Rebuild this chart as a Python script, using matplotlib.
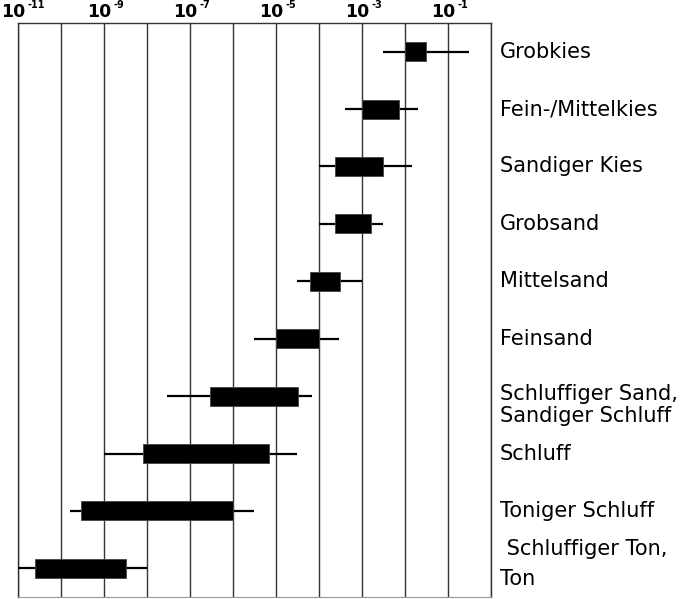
import numpy as np
import matplotlib
matplotlib.use('Agg')
import matplotlib.pyplot as plt

soils = ['Grobkies', 'Fein-/Mittelkies', 'Sandiger Kies', 'Grobsand', 'Mittelsand',
         'Feinsand', 'Schluffiger Sand,\nSandiger Schluff', 'Schluff',
         'Toniger Schluff', ' Schluffiger Ton,\nTon']
range_lo = [-2.5, -3.4, -4.0, -4.0, -4.52, -5.52, -7.53, -9.0, -9.8, -11.0]
range_hi = [-0.5, -1.7, -1.83, -2.52, -3.0, -3.53, -4.16, -4.52, -5.52, -8.0]
core_lo = [-2.0, -3.0, -3.63, -3.63, -4.2, -5.0, -6.53, -8.1, -9.53, -10.6]
core_hi = [-1.5, -2.15, -2.5, -2.8, -3.5, -4.0, -4.5, -5.16, -6.0, -8.5]
decades = list(range(-11, 1))
labelled = [-11, -9, -7, -5, -3, -1]

plt.rcParams['font.family'] = ['DejaVu Sans']

fig = plt.figure(figsize=(6.99, 5.99), dpi=100)
ax = fig.add_axes([18 / 699, 1 - 597 / 599, 473 / 699, 574 / 599])
ax.set_xscale('log')

rows = np.arange(len(soils))
w_lo, w_hi = np.power(10.0, range_lo), np.power(10.0, range_hi)
b_lo, b_hi = np.power(10.0, core_lo), np.power(10.0, core_hi)

ax.hlines(rows, w_lo, w_hi, color='black', linewidth=1.6, zorder=3)
ax.barh(rows, b_hi - b_lo, left=b_lo, height=0.33, color='black',
        edgecolor='#444444', linewidth=0.6, zorder=4)

ax.set_xlim(1e-11, 1e0)
ax.set_ylim(len(soils) - 0.5, -0.5)
ax.set_yticks([])
ax.set_xticks([10.0 ** e for e in decades])
ax.set_xticklabels([])
ax.minorticks_off()
ax.tick_params(axis='x', length=0, top=False, bottom=False)
ax.grid(axis='x', color='#333333', linewidth=1.0, zorder=1)
for side in ['left', 'top', 'right']:
    ax.spines[side].set_color('#333333')
    ax.spines[side].set_linewidth(1.0)
ax.spines['bottom'].set_color('#999999')

# Achsbeschriftung oben: 10 mit kleinem Exponenten
for e in labelled:
    ax.annotate('10', xy=(10.0 ** e, 1), xycoords=('data', 'axes fraction'),
                xytext=(5.0, 4.1), textcoords='offset points',
                ha='right', va='baseline', fontsize=12.5, fontweight='bold')
    ax.annotate(str(e), xy=(10.0 ** e, 1), xycoords=('data', 'axes fraction'),
                xytext=(6.5, 10.8), textcoords='offset points',
                ha='left', va='baseline', fontsize=7, fontweight='bold')

# Bodenarten rechts
for i, name in enumerate(soils):
    if i == 6:
        ax.annotate(name, xy=(1, i), xycoords=('axes fraction', 'data'),
                    xytext=(6.5, 8.5), textcoords='offset points',
                    ha='left', va='top', fontsize=15, linespacing=1.1)
    elif i == 9:
        ax.annotate(name, xy=(1, i), xycoords=('axes fraction', 'data'),
                    xytext=(6.5, 3.0), textcoords='offset points',
                    ha='left', va='center', fontsize=15, linespacing=1.65)
    else:
        ax.annotate(name, xy=(1, i), xycoords=('axes fraction', 'data'),
                    xytext=(6.5, 0), textcoords='offset points',
                    ha='left', va='center', fontsize=15)

fig.savefig('out.png', dpi=100)
